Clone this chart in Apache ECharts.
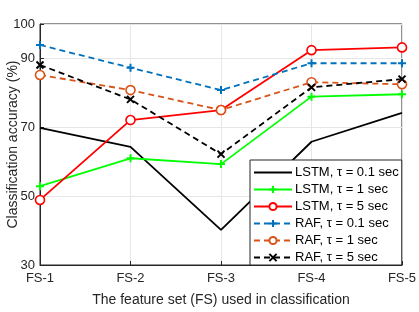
<!DOCTYPE html>
<html><head><meta charset="utf-8">
<script src="https://cdn.jsdelivr.net/npm/echarts@6/dist/echarts.min.js"></script>
<style>html,body{margin:0;padding:0;background:#fff}#c{width:419px;height:312px}</style>
</head><body><div id="c"></div>
<script>
const categories = ['FS-1','FS-2','FS-3','FS-4','FS-5'];
const yTicks = [30, 50, 70, 90, 100];
const lstm01 = [69.8, 64.3, 40.2, 65.8, 74.2];
const lstm1  = [52.9, 61.0, 59.3, 78.9, 79.6];
const lstm5  = [48.9, 72.1, 75.0, 92.4, 93.2];
const raf01  = [93.9, 87.3, 80.8, 88.6, 88.6];
const raf1   = [85.2, 80.8, 75.0, 83.1, 82.5];
const raf5   = [88.1, 78.1, 62.2, 81.6, 84.0];
const names = ['LSTM, τ = 0.1 sec','LSTM, τ = 1 sec','LSTM, τ = 5 sec','RAF, τ = 0.1 sec','RAF, τ = 1 sec','RAF, τ = 5 sec'];

const plus = 'path://M5,0L5,10M0,5L10,5';
const cross = 'path://M0,0L10,10M10,0L0,10';
function mk(name, data, color, dashed, symbol, size){
  const isPath = symbol && symbol.indexOf('path://')===0;
  return {
    name, type:'line', data,
    symbol: symbol || 'none', symbolSize: size || 8, showSymbol: !!symbol,
    lineStyle:{color, width:1.8, type: dashed ? [6,4] : 'solid'},
    itemStyle:{color: isPath ? color : '#fff', borderColor: color, borderWidth: isPath ? 2 : 1.6},
    emphasis:{disabled:true}, animation:false, z: 3
  };
}
const chart = echarts.init(document.getElementById('c'));
const axisCol = '#262626';
const legendData = names.map((n,i) => i===0 ? {name:n, itemStyle:{color:'transparent', borderColor:'transparent', borderWidth:0}} : {name:n});
chart.setOption({
  animation:false,
  grid:{left:40, right:17, top:24, bottom:47, outerBoundsMode:'none', containLabel:false, show:true, borderColor:axisCol, borderWidth:1, backgroundColor:'transparent'},
  xAxis:{type:'category', data:categories, boundaryGap:false,
    name:'The feature set (FS) used in classification', nameLocation:'middle', nameGap:28, nameMoveOverlap:false,
    nameTextStyle:{fontFamily:'Liberation Sans', fontSize:14, color:axisCol},
    axisLine:{lineStyle:{color:axisCol}}, axisTick:{inside:true, length:4, lineStyle:{color:axisCol}},
    axisLabel:{fontFamily:'Liberation Sans', fontSize:13, color:axisCol, margin:7},
    splitLine:{show:true, lineStyle:{color:'#e6e6e6'}}},
  yAxis:{type:'value', min:30, max:100, interval:10,
    name:'Classification accuracy (%)', nameLocation:'middle', nameGap:20, nameMoveOverlap:false,
    nameTextStyle:{fontFamily:'Liberation Sans', fontSize:14, color:axisCol},
    axisLine:{show:true, lineStyle:{color:axisCol}},
    axisTick:{show:true, inside:true, length:4, lineStyle:{color:axisCol}, customValues:yTicks},
    axisLabel:{fontFamily:'Liberation Sans', fontSize:13, color:axisCol, margin:5, customValues:yTicks},
    splitLine:{show:true, lineStyle:{color:'#e6e6e6'}}},
  legend:{left:250, top:160, orient:'vertical', itemWidth:38, itemHeight:9, itemGap:4,
    padding:[6,3,1,3], backgroundColor:'#fff', borderColor:axisCol, borderWidth:1, borderRadius:0,
    textStyle:{fontFamily:'Liberation Sans', fontSize:13, color:'#000', padding:[0,0,0,-2]},
    data:legendData},
  series:[
    mk(names[0], lstm01, '#000000', false, null),
    mk(names[1], lstm1, '#00ff00', false, plus, 8),
    mk(names[2], lstm5, '#ff0000', false, 'circle', 9),
    mk(names[3], raf01, '#0072bd', true, plus, 8),
    mk(names[4], raf1, '#d95319', true, 'circle', 9),
    mk(names[5], raf5, '#000000', true, cross, 7)
  ]
});
</script></body></html>
